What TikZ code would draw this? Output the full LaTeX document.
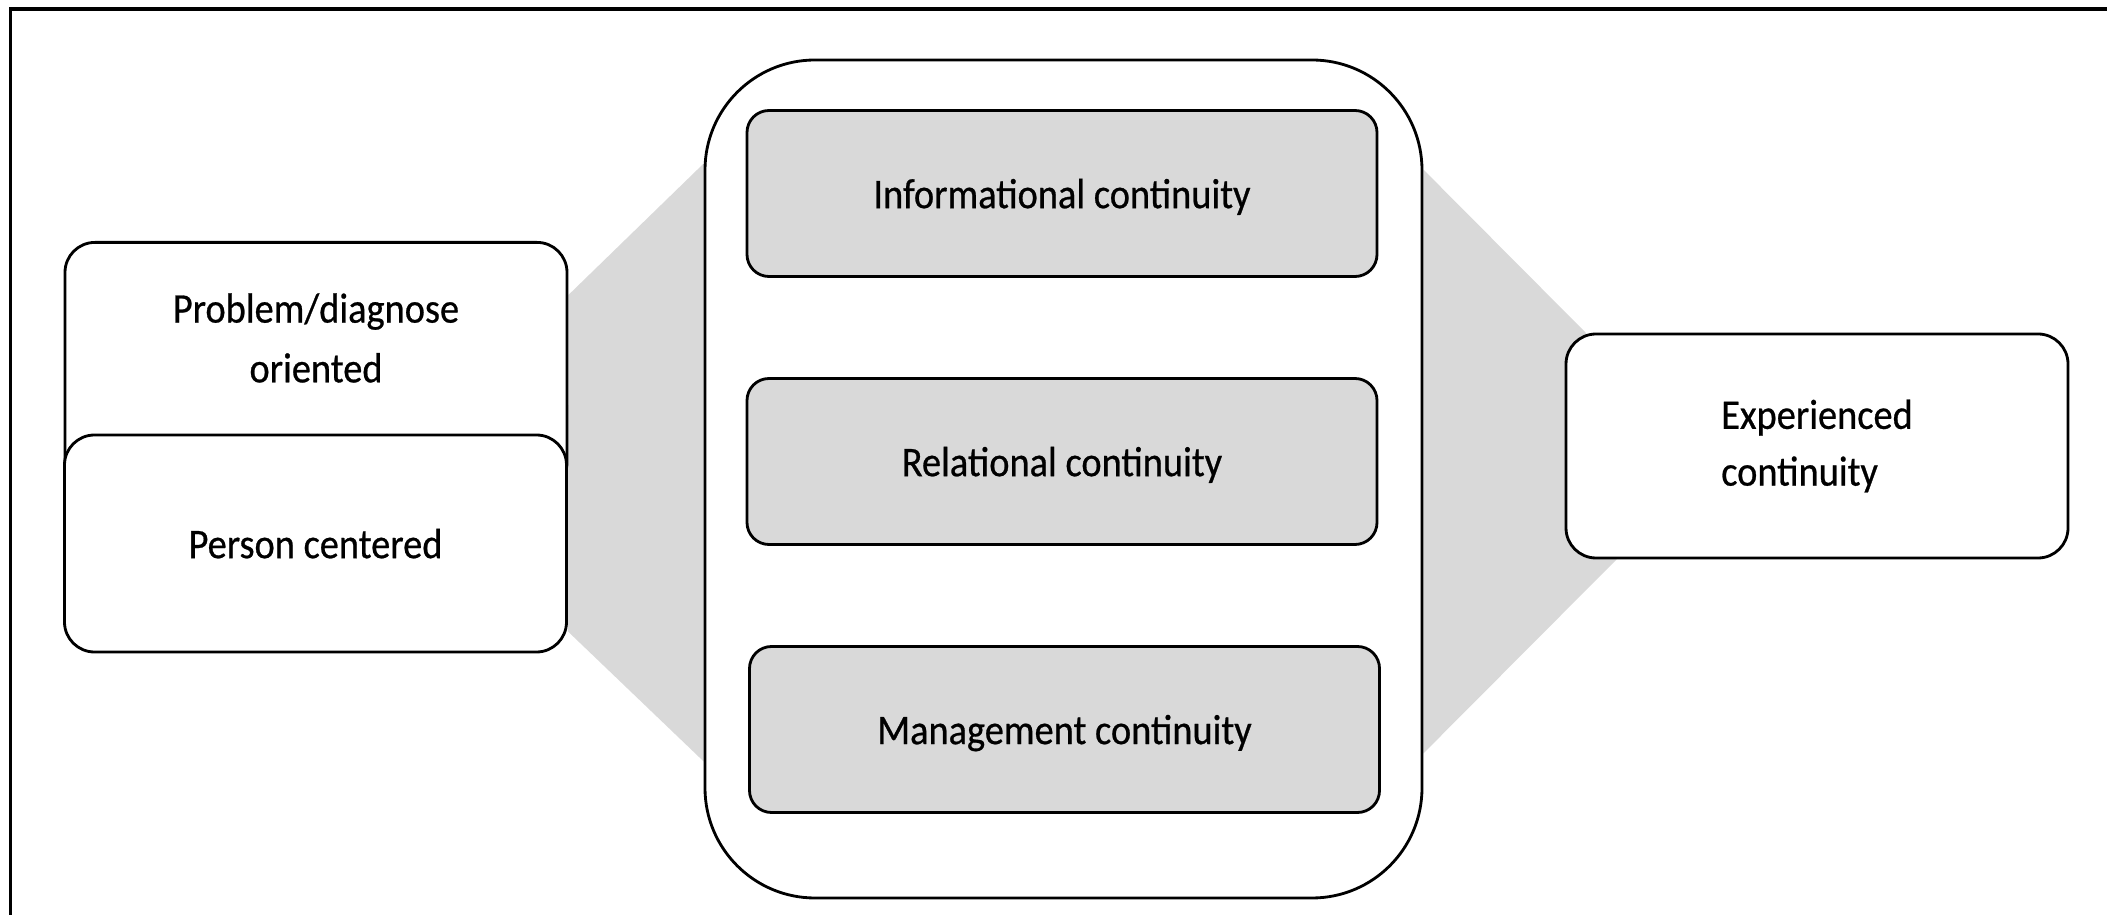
\documentclass[tikz,border=0pt]{standalone}
\usepackage{fontspec}
\setmainfont{Carlito}[FakeStretch=0.91, FakeBold=0.6]
\usetikzlibrary{positioning,backgrounds}

\definecolor{bandgray}{HTML}{D9D9D9}

\tikzset{
  sidebox/.style={draw, line width=0.8pt, rounded corners=0.3cm, fill=white,
    minimum width=5.02cm, align=center},
  contbox/.style={draw, line width=0.8pt, rounded corners=0.22cm, fill=bandgray,
    minimum width=6.30cm, minimum height=1.66cm, text depth=0pt},
}

\begin{document}
\begin{tikzpicture}[font=\fontsize{12}{17}\selectfont]
  \useasboundingbox (0,0) rectangle (21.07,9.15);

  % Frame (runs off the right and bottom edge)
  \draw[line width=1.1pt] (0.105,0) -- (0.105,9.06) -- (21.07,9.06);

  % Left boxes
  \node[sidebox, minimum height=2.5cm, anchor=north] (problem) at (3.16,6.74) {};
  \node[align=center] (problemtext) at ([yshift=-0.97cm]problem.north) {Problem/diagnose\\oriented};
  \node[sidebox, minimum height=2.17cm, text depth=0pt] (person) at (3.155,3.715) {Person centered};

  % Central frame with the three continuities
  \node[draw, line width=0.8pt, rounded corners=1.1cm, fill=white,
    minimum width=7.17cm, minimum height=8.38cm] (cont) at (10.635,4.36) {};
  \node[contbox] (info) at (10.62,7.215) {Informational continuity};
  \node[contbox] (relat) at (10.62,4.535) {Relational continuity};
  \node[contbox] (manag) at (10.645,1.855) {Management continuity};

  % Right box
  \node[sidebox, minimum height=2.24cm, align=left] (exper) at (18.17,4.69) {Experienced\\[-0.3mm]continuity};

  % Gray bands behind the boxes
  \begin{scope}[on background layer]
    \fill[bandgray] ([yshift=-0.54cm]problem.north east) -- ([yshift=-1.05cm]cont.north west)
      -- ([yshift=1.38cm]cont.south west) -- ([yshift=0.22cm]person.south east) -- cycle;
    \fill[bandgray] ([yshift=-1.11cm]cont.north east) -- ([xshift=0.21cm]exper.north west)
      -- ([xshift=0.52cm]exper.south west) -- ([yshift=1.46cm]cont.south east) -- cycle;
  \end{scope}
\end{tikzpicture}
\end{document}
